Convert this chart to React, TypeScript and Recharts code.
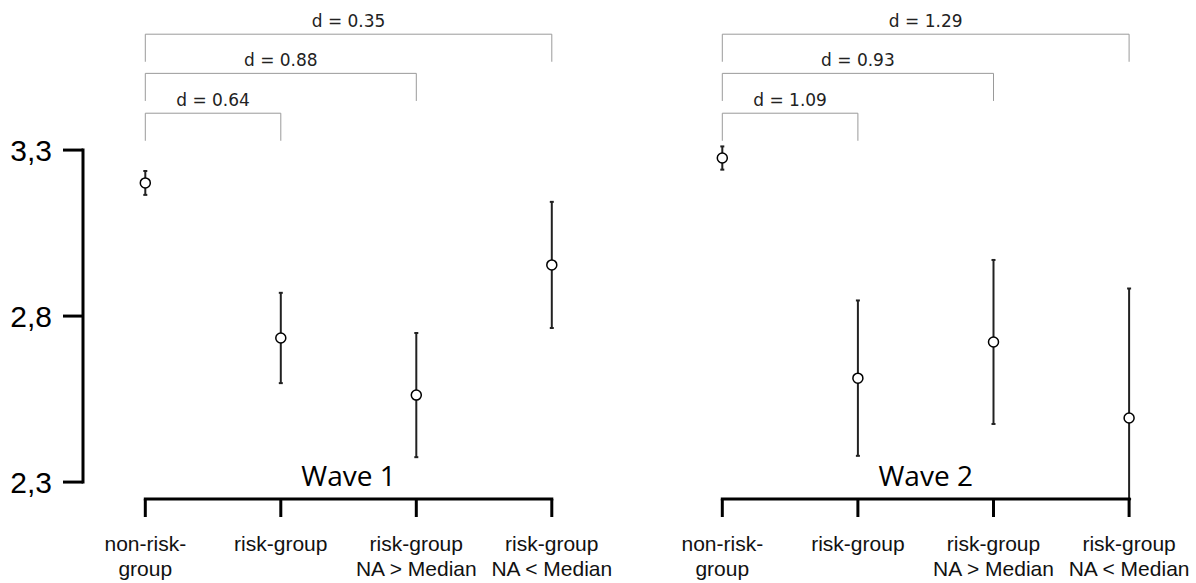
import React from 'react';
import { ScatterChart, Scatter, XAxis, YAxis, ErrorBar, ReferenceLine } from 'recharts';

// ---- data ----
const categories = ['non-risk-\ngroup', 'risk-group', 'risk-group\nNA > Median', 'risk-group\nNA < Median'];
const wave1Means = [3.201, 2.734, 2.562, 2.954];
const wave1Errors = [0.036, 0.136, 0.187, 0.19];
const wave2Means = [3.276, 2.613, 2.722, 2.493];
const wave2Errors = [0.035, 0.234, 0.247, 0.39];
const waveLabels = ['Wave 1', 'Wave 2'];
const yTicks = [2.3, 2.8, 3.3];
const comparisonTargets = [1, 2, 3];
const wave1EffectSizes = ['0.64', '0.88', '0.35'];
const wave2EffectSizes = ['1.09', '0.93', '1.29'];
const bracketLevels = [3.411, 3.531, 3.649];
const bracketDrop = 0.083;
const Y_DOMAIN: [number, number] = [2.249, 3.752];

const SANS = '"Liberation Sans", Arial, Helvetica, sans-serif';

const CatTick = (props: any) => {
  const { x, y, payload } = props;
  const idx = Math.round(payload.value);
  const lines = (categories[idx] || '').split('\n');
  return (
    <text x={x} y={y + 34} textAnchor="middle" fontSize={21} fontFamily={SANS} fill="#111">
      {lines.map((l, i) => (
        <tspan key={i} x={x} dy={i === 0 ? 0 : 25}>
          {l}
        </tspan>
      ))}
    </text>
  );
};

const Dot = (p: any) => <circle cx={p.cx} cy={p.cy} r={5} fill="#fff" stroke="#000" strokeWidth={1.5} />;

interface PanelProps {
  left: number;
  width: number;
  firstX: number;
  spacing: number;
  means: number[];
  errors: number[];
  effects: string[];
  label: string;
  showY: boolean;
}

function WavePanel({ left, width, firstX, spacing, means, errors, effects, label, showY }: PanelProps) {
  // the error bar is cut at the bottom of the plotted range (as in the original figure)
  const rows = categories.map((c, i) => ({
    idx: i,
    name: c,
    mean: means[i],
    err: [Math.min(errors[i], means[i] - Y_DOMAIN[0]), errors[i]],
  }));
  const yAxisW = showY ? 83 : 0;
  const plotW = width - yAxisW;
  const xmin = -(firstX - (left + yAxisW)) / spacing;
  const xmax = xmin + plotW / spacing;
  const last = categories.length - 1;

  return (
    <div style={{ position: 'absolute', left, top: 0 }}>
      <ScatterChart width={width} height={583} margin={{ top: 0, right: 0, bottom: 0, left: 0 }}>
        <XAxis
          type="number"
          dataKey="idx"
          domain={[xmin, xmax]}
          allowDataOverflow
          ticks={[0, 1, 2, 3]}
          interval={0}
          height={84}
          axisLine={false}
          tickLine={{ stroke: '#000', strokeWidth: 3 }}
          tickSize={18}
          tickMargin={0}
          tick={<CatTick />}
        />
        <YAxis
          type="number"
          dataKey="mean"
          domain={Y_DOMAIN}
          allowDataOverflow
          ticks={yTicks}
          interval={0}
          width={yAxisW}
          hide={!showY}
          axisLine={false}
          tickLine={{ stroke: '#000', strokeWidth: 3 }}
          tickSize={20}
          tickMargin={11}
          tickFormatter={(v: number) => String(v).replace('.', ',')}
          tick={{ fontSize: 30, fill: '#000', fontFamily: SANS }}
        />
        {showY && (
          <ReferenceLine
            segment={[
              { x: xmin, y: yTicks[0] },
              { x: xmin, y: yTicks[yTicks.length - 1] },
            ]}
            stroke="#000"
            strokeWidth={3}
            strokeLinecap="square"
            ifOverflow="visible"
          />
        )}
        {comparisonTargets.map((t, k) => (
          <ReferenceLine
            key={'h' + k}
            segment={[
              { x: 0, y: bracketLevels[k] },
              { x: t, y: bracketLevels[k] },
            ]}
            stroke="#9a9a9a"
            strokeWidth={1}
            ifOverflow="visible"
            label={{ value: `d = ${effects[k]}`, position: 'top', offset: 7.5, fontSize: 17, fontFamily: '"DejaVu Sans", sans-serif', fill: '#222' }}
          />
        ))}
        {comparisonTargets.map((t, k) => (
          <ReferenceLine
            key={'l' + k}
            segment={[
              { x: 0, y: bracketLevels[k] },
              { x: 0, y: bracketLevels[k] - bracketDrop },
            ]}
            stroke="#9a9a9a"
            strokeWidth={1}
            ifOverflow="visible"
          />
        ))}
        {comparisonTargets.map((t, k) => (
          <ReferenceLine
            key={'r' + k}
            segment={[
              { x: t, y: bracketLevels[k] },
              { x: t, y: bracketLevels[k] - bracketDrop },
            ]}
            stroke="#9a9a9a"
            strokeWidth={1}
            ifOverflow="visible"
          />
        ))}
        <Scatter data={rows} isAnimationActive={false} shape={Dot}>
          <ErrorBar dataKey="err" direction="y" width={2} strokeWidth={2} stroke="#222" isAnimationActive={false} />
        </Scatter>
        <ReferenceLine
          segment={[
            { x: 0, y: Y_DOMAIN[0] },
            { x: last, y: Y_DOMAIN[0] },
          ]}
          stroke="#000"
          strokeWidth={3}
          strokeLinecap="square"
          ifOverflow="visible"
          label={{ value: label, position: 'top', offset: 13, fontSize: 28, fontFamily: '"Open Sans", sans-serif', fill: '#000' }}
        />
      </ScatterChart>
    </div>
  );
}

export default function App() {
  return (
    <div style={{ position: 'absolute', left: 0, top: 0, width: 1196, height: 583, background: '#fff', overflow: 'hidden' }}>
      <WavePanel
        left={0}
        width={660}
        firstX={145.3}
        spacing={135.5}
        means={wave1Means}
        errors={wave1Errors}
        effects={wave1EffectSizes}
        label={waveLabels[0]}
        showY
      />
      <WavePanel
        left={600}
        width={596}
        firstX={722.3}
        spacing={135.6}
        means={wave2Means}
        errors={wave2Errors}
        effects={wave2EffectSizes}
        label={waveLabels[1]}
        showY={false}
      />
    </div>
  );
}
